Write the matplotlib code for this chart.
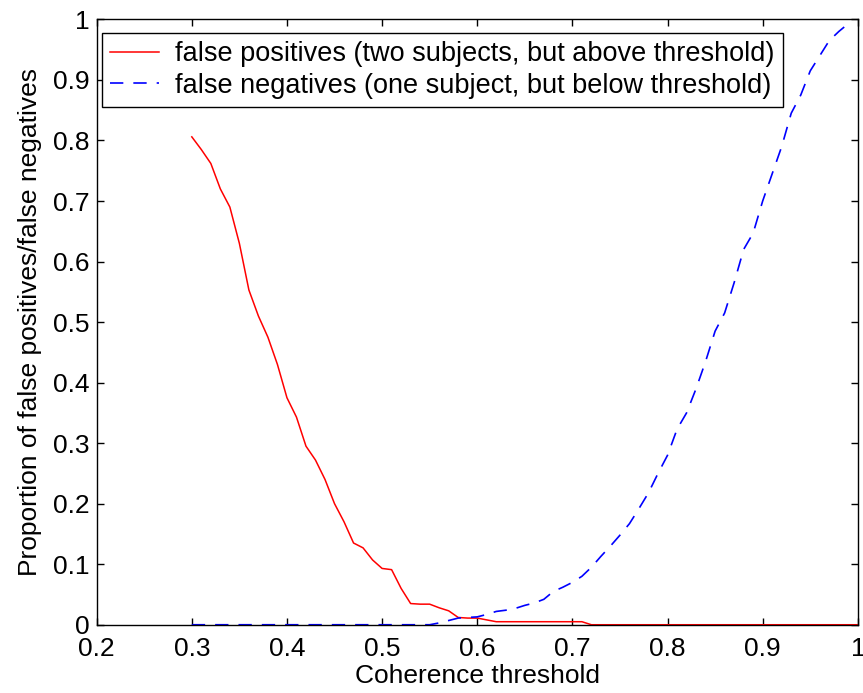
import matplotlib.pyplot as plt
import numpy as np

plt.rcParams['font.family'] = ['Liberation Sans', 'DejaVu Sans']

# thresholds sampled every 0.01 from 0.30 to 1.00
thresholds = np.round(np.arange(0.30, 1.001, 0.01), 2)

false_pos = [0.806, 0.785, 0.762, 0.720, 0.690, 0.630, 0.553, 0.510, 0.475, 0.430,
             0.375, 0.343, 0.295, 0.272, 0.240, 0.200, 0.170, 0.135, 0.127, 0.107,
             0.093, 0.091, 0.060, 0.035, 0.034, 0.034, 0.028, 0.023, 0.012, 0.011,
             0.011, 0.008, 0.005, 0.005, 0.005, 0.005, 0.005, 0.005, 0.005, 0.005,
             0.005, 0.005, 0.0, 0.0, 0.0, 0.0, 0.0, 0.0, 0.0, 0.0,
             0.0, 0.0, 0.0, 0.0, 0.0, 0.0, 0.0, 0.0, 0.0, 0.0,
             0.0, 0.0, 0.0, 0.0, 0.0, 0.0, 0.0, 0.0, 0.0, 0.0, 0.0]

# false negatives run from 0.30 to 0.99
false_neg = [0.0] * 26 + [
    0.003, 0.007, 0.011, 0.012, 0.013, 0.017, 0.022, 0.024, 0.027, 0.032,
    0.036, 0.042, 0.055, 0.062, 0.070, 0.080, 0.095, 0.113, 0.130, 0.148,
    0.167, 0.192, 0.218, 0.250, 0.280, 0.323, 0.350, 0.390, 0.435, 0.485,
    0.515, 0.565, 0.620, 0.647, 0.700, 0.745, 0.790, 0.845, 0.875, 0.915,
    0.940, 0.965, 0.980, 0.993]

x_ticks = [0.2, 0.3, 0.4, 0.5, 0.6, 0.7, 0.8, 0.9, 1.0]
x_labels = ['0.2', '0.3', '0.4', '0.5', '0.6', '0.7', '0.8', '0.9', '1']
y_ticks = [0, 0.1, 0.2, 0.3, 0.4, 0.5, 0.6, 0.7, 0.8, 0.9, 1.0]
y_labels = ['0', '0.1', '0.2', '0.3', '0.4', '0.5', '0.6', '0.7', '0.8', '0.9', '1']

fig = plt.figure(figsize=(8.63, 6.93), dpi=100)
ax = fig.add_axes([0.112, 0.0985, 0.882, 0.8735])

ax.plot(thresholds, false_pos, color='#ff0000', linewidth=1.1,
        label='false positives (two subjects, but above threshold)')
ax.plot(thresholds[:len(false_neg)], false_neg, color='#0000ff', linewidth=1.2,
        dashes=(8, 6), label='false negatives (one subject, but below threshold)')

ax.set_xlim(0.2, 1.0)
ax.set_ylim(0, 1.0)
ax.set_xticks(x_ticks)
ax.set_xticklabels(x_labels)
ax.set_yticks(y_ticks)
ax.set_yticklabels(y_labels)
ax.tick_params(direction='in', top=True, right=True, length=5, width=1,
               labelsize=19)
ax.tick_params(axis='x', pad=9)
ax.tick_params(axis='y', pad=5)
for side in ax.spines.values():
    side.set_linewidth(1)

ax.set_xlabel('Coherence threshold', fontsize=19, labelpad=2)
ax.set_ylabel('Proportion of false positives/false negatives', fontsize=19, labelpad=8)

leg = ax.legend(loc='upper left', bbox_to_anchor=(0.007, 0.977), fontsize=19.5,
                frameon=True, fancybox=False, edgecolor='black', framealpha=1,
                handlelength=1.8, borderpad=0.3, labelspacing=0.2,
                handletextpad=0.6, borderaxespad=0)
leg.get_frame().set_linewidth(1)

fig.savefig('out.png', dpi=100)
